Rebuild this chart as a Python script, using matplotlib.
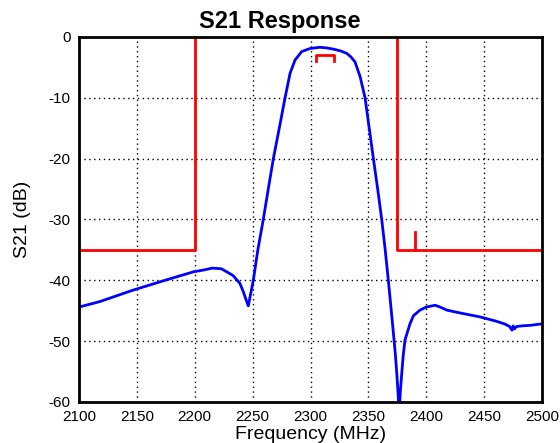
import numpy as np
import matplotlib.pyplot as plt

freq = [2100, 2118, 2147, 2176, 2199, 2208, 2215, 2223, 2233, 2239, 2242, 2244.5, 2246.3,
        2248, 2250.6, 2254.5, 2259.2, 2263.5, 2267.9, 2273, 2278, 2282.3, 2286.6, 2292.4,
        2299.6, 2308, 2314, 2319.7, 2326, 2331.3, 2335, 2338.4, 2342.8, 2347.1, 2350.7,
        2354.3, 2358, 2361.5, 2364.5, 2367.2, 2369.5, 2371.6, 2373.2, 2374.5, 2375.6,
        2376.5, 2377.5, 2378.8, 2380, 2381.6, 2386, 2389, 2394.6, 2400, 2407.6, 2412,
        2417.7, 2430, 2446, 2460, 2468, 2472, 2474, 2475, 2476, 2478, 2482, 2490, 2498, 2500]
s21 = [-44.4, -43.5, -41.6, -39.9, -38.6, -38.3, -38.0, -38.1, -39.2, -40.5, -41.9, -43.3, -44.2,
       -42.5, -40.0, -35.0, -30.0, -25.0, -20.0, -15.0, -10.0, -6.0, -3.8, -2.4,
       -1.9, -1.7, -1.8, -2.0, -2.3, -2.7, -3.3, -4.1, -6.5, -10.0, -15.0,
       -20.0, -25.0, -30.0, -35.0, -40.0, -44.5, -48.7, -52.0, -55.3, -58.5,
       -62.0, -58.5, -55.3, -52.5, -49.8, -47.1, -45.8, -44.9, -44.4, -44.1, -44.4,
       -44.9, -45.4, -46.0, -46.7, -47.2, -47.6, -48.2, -47.5, -48.0, -47.6, -47.5, -47.4, -47.2, -47.2]

# spec mask
lo_mask_f = [2100, 2200, 2200]
lo_mask_db = [-35, -35, 0]
hi_mask_f = [2375, 2375, 2500]
hi_mask_db = [0, -35, -35]
spur_f = [2390, 2390]
spur_db = [-35, -32]
pass_f = [2305, 2305, 2320, 2320]
pass_db = [-4, -3, -3, -4]

plt.rcParams['font.family'] = ['Liberation Sans', 'DejaVu Sans']
plt.rcParams['axes.unicode_minus'] = False

fig = plt.figure(figsize=(5.6, 4.43), dpi=100)
ax = fig.add_axes([0.141, 0.0926, 0.827, 0.824])

ax.plot(freq, s21, color='#0000ff', lw=2)
for f, d in [(lo_mask_f, lo_mask_db), (hi_mask_f, hi_mask_db), (spur_f, spur_db), (pass_f, pass_db)]:
    ax.plot(f, d, color='#ff0000', lw=2)

ax.set_xlim(2100, 2500)
ax.set_ylim(-60, 0)
ax.set_xticks(np.arange(2100, 2501, 50))
ax.set_yticks(np.arange(-60, 1, 10))
ax.grid(True, color='black', linestyle=(0, (1, 2.5)), lw=1)
ax.tick_params(length=0, labelsize=11, pad=6)
for sp in ax.spines.values():
    sp.set_linewidth(2)

fig.text(0.5, 1 - 21.5 / 443, 'S21 Response', fontsize=17, fontweight='bold',
         ha='center', va='center')
ax.set_xlabel('Frequency (MHz)', fontsize=14, labelpad=1)
ax.set_ylabel('S21 (dB)', fontsize=14, labelpad=13)

fig.savefig('out.png', dpi=100)
